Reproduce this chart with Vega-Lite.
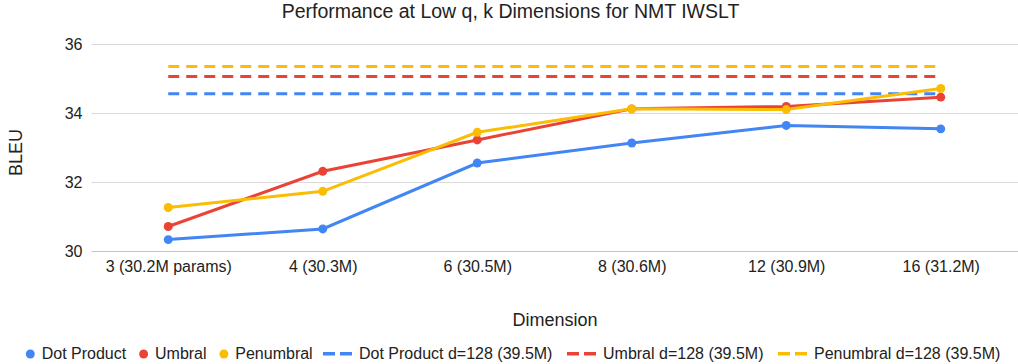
{
  "$schema": "https://vega.github.io/schema/vega-lite/v6.json",
  "width": 927,
  "height": 207,
  "autosize": {"type": "none"},
  "padding": {"left": 91, "top": 44, "right": 0, "bottom": 113},
  "background": "#ffffff",
  "config": {"view": {"stroke": null}, "font": "Liberation Sans"},
  "title": {"text": "Performance at Low q, k Dimensions for NMT IWSLT", "fontSize": 19.5, "fontWeight": "normal", "color": "#222222", "anchor": "middle", "offset": 14, "dx": -44},
  "datasets": {
    "solid": [
      {"dim": "3 (30.2M params)", "series": "Dot Product", "bleu": 30.33},
      {"dim": "4 (30.3M)", "series": "Dot Product", "bleu": 30.64},
      {"dim": "6 (30.5M)", "series": "Dot Product", "bleu": 32.55},
      {"dim": "8 (30.6M)", "series": "Dot Product", "bleu": 33.13},
      {"dim": "12 (30.9M)", "series": "Dot Product", "bleu": 33.64},
      {"dim": "16 (31.2M)", "series": "Dot Product", "bleu": 33.54},
      {"dim": "3 (30.2M params)", "series": "Umbral", "bleu": 30.71},
      {"dim": "4 (30.3M)", "series": "Umbral", "bleu": 32.31},
      {"dim": "6 (30.5M)", "series": "Umbral", "bleu": 33.22},
      {"dim": "8 (30.6M)", "series": "Umbral", "bleu": 34.12},
      {"dim": "12 (30.9M)", "series": "Umbral", "bleu": 34.19},
      {"dim": "16 (31.2M)", "series": "Umbral", "bleu": 34.46},
      {"dim": "3 (30.2M params)", "series": "Penumbral", "bleu": 31.26},
      {"dim": "4 (30.3M)", "series": "Penumbral", "bleu": 31.73},
      {"dim": "6 (30.5M)", "series": "Penumbral", "bleu": 33.44},
      {"dim": "8 (30.6M)", "series": "Penumbral", "bleu": 34.12},
      {"dim": "12 (30.9M)", "series": "Penumbral", "bleu": 34.10},
      {"dim": "16 (31.2M)", "series": "Penumbral", "bleu": 34.71}
    ],
    "ref": [
      {"dim": "3 (30.2M params)", "series": "Dot Product d=128 (39.5M)", "bleu": 34.56},
      {"dim": "4 (30.3M)", "series": "Dot Product d=128 (39.5M)", "bleu": 34.56},
      {"dim": "6 (30.5M)", "series": "Dot Product d=128 (39.5M)", "bleu": 34.56},
      {"dim": "8 (30.6M)", "series": "Dot Product d=128 (39.5M)", "bleu": 34.56},
      {"dim": "12 (30.9M)", "series": "Dot Product d=128 (39.5M)", "bleu": 34.56},
      {"dim": "16 (31.2M)", "series": "Dot Product d=128 (39.5M)", "bleu": 34.56},
      {"dim": "3 (30.2M params)", "series": "Umbral d=128 (39.5M)", "bleu": 35.06},
      {"dim": "4 (30.3M)", "series": "Umbral d=128 (39.5M)", "bleu": 35.06},
      {"dim": "6 (30.5M)", "series": "Umbral d=128 (39.5M)", "bleu": 35.06},
      {"dim": "8 (30.6M)", "series": "Umbral d=128 (39.5M)", "bleu": 35.06},
      {"dim": "12 (30.9M)", "series": "Umbral d=128 (39.5M)", "bleu": 35.06},
      {"dim": "16 (31.2M)", "series": "Umbral d=128 (39.5M)", "bleu": 35.06},
      {"dim": "3 (30.2M params)", "series": "Penumbral d=128 (39.5M)", "bleu": 35.35},
      {"dim": "4 (30.3M)", "series": "Penumbral d=128 (39.5M)", "bleu": 35.35},
      {"dim": "6 (30.5M)", "series": "Penumbral d=128 (39.5M)", "bleu": 35.35},
      {"dim": "8 (30.6M)", "series": "Penumbral d=128 (39.5M)", "bleu": 35.35},
      {"dim": "12 (30.9M)", "series": "Penumbral d=128 (39.5M)", "bleu": 35.35},
      {"dim": "16 (31.2M)", "series": "Penumbral d=128 (39.5M)", "bleu": 35.35}
    ]
  },
  "encoding": {
    "x": {
      "field": "dim", "type": "ordinal",
      "scale": {"type": "point", "padding": 0.5, "domain": ["3 (30.2M params)", "4 (30.3M)", "6 (30.5M)", "8 (30.6M)", "12 (30.9M)", "16 (31.2M)"]},
      "axis": {"title": "Dimension", "labelAngle": 0, "labelFontSize": 16, "labelColor": "#222222", "labelPadding": 7, "ticks": false, "tickSize": 0, "domain": true, "domainColor": "#c4c4c4", "grid": false, "titleFontSize": 18, "titleFontWeight": "normal", "titleColor": "#222222", "titleY": 60, "titleBaseline": "top"}
    },
    "y": {
      "field": "bleu", "type": "quantitative",
      "scale": {"domain": [30, 36], "zero": false, "nice": false},
      "axis": {"values": [30, 32, 34, 36], "title": "BLEU", "grid": true, "gridColor": "#d9d9d9", "domain": false, "ticks": false, "tickSize": 0, "labelPadding": 9, "labelFontSize": 16, "labelColor": "#222222", "titleFontSize": 18, "titleFontWeight": "normal", "titleColor": "#222222", "titleX": -75, "titleY": 108, "titleBaseline": "middle"}
    }
  },
  "layer": [
    {
      "data": {"name": "ref"},
      "mark": {"type": "line", "strokeWidth": 3, "strokeDash": [11, 7], "strokeCap": "butt"},
      "encoding": {
        "stroke": {
          "field": "series", "type": "nominal",
          "scale": {"domain": ["Dot Product", "Umbral", "Penumbral", "Dot Product d=128 (39.5M)", "Umbral d=128 (39.5M)", "Penumbral d=128 (39.5M)"], "range": ["#4285F4", "#EA4335", "#FBBC04", "#4285F4", "#EA4335", "#FBBC04"]},
          "legend": {"values": ["Dot Product d=128 (39.5M)", "Umbral d=128 (39.5M)", "Penumbral d=128 (39.5M)"], "orient": "none", "legendX": 230, "legendY": 293, "direction": "horizontal", "title": null, "padding": 0, "symbolType": "stroke", "symbolSize": 841, "symbolStrokeWidth": 3.5, "symbolDash": [12, 5], "labelFontSize": 16, "labelColor": "#222222", "labelOffset": 5, "labelLimit": 400, "columnPadding": 7}
        }
      }
    },
    {
      "data": {"name": "solid"},
      "mark": {"type": "line", "strokeWidth": 3},
      "encoding": {
        "stroke": {
          "field": "series", "type": "nominal",
          "scale": {"domain": ["Dot Product", "Umbral", "Penumbral", "Dot Product d=128 (39.5M)", "Umbral d=128 (39.5M)", "Penumbral d=128 (39.5M)"], "range": ["#4285F4", "#EA4335", "#FBBC04", "#4285F4", "#EA4335", "#FBBC04"]},
          "legend": null
        }
      }
    },
    {
      "data": {"name": "solid"},
      "mark": {"type": "point", "filled": true, "size": 80, "opacity": 1, "shape": "circle"},
      "encoding": {
        "color": {
          "field": "series", "type": "nominal",
          "scale": {"domain": ["Dot Product", "Umbral", "Penumbral"], "range": ["#4285F4", "#EA4335", "#FBBC04"]},
          "legend": {"orient": "none", "legendX": -68.7, "legendY": 302, "direction": "horizontal", "title": null, "padding": 0, "symbolType": "circle", "symbolSize": 80, "symbolStrokeWidth": 0, "symbolOpacity": 1, "labelFontSize": 16, "labelColor": "#222222", "labelOffset": 3.4, "labelLimit": 400, "columnPadding": 9.3}
        }
      }
    }
  ]
}
